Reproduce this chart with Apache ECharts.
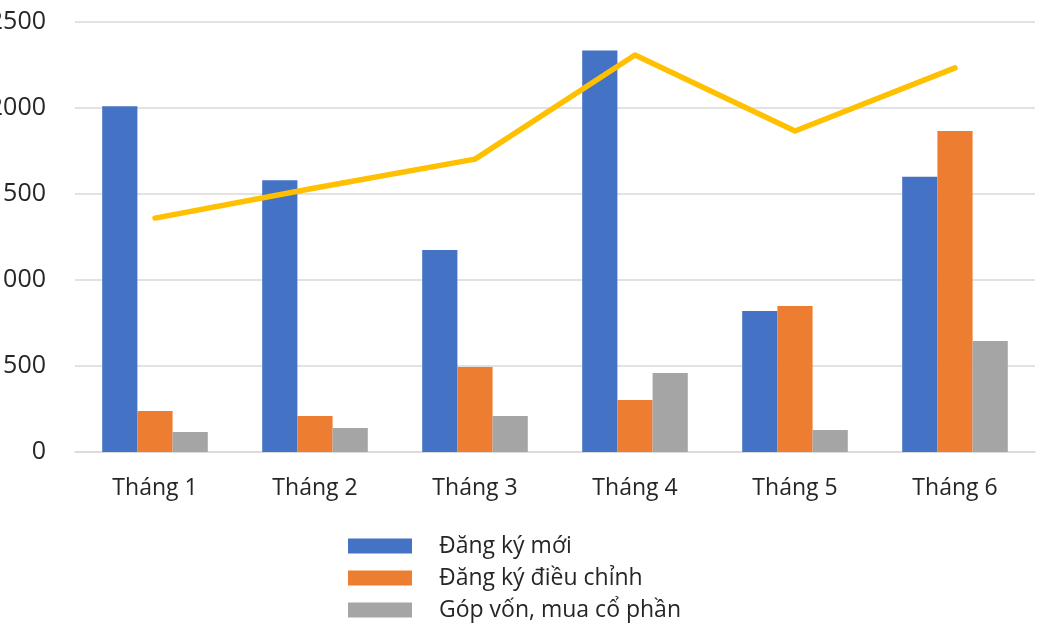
<!DOCTYPE html>
<html>
<head>
<meta charset="utf-8">
<script src="https://cdn.jsdelivr.net/npm/echarts@6/dist/echarts.min.js"></script>
<style>
  html, body { margin: 0; padding: 0; background: #fff; }
  #chart { width: 1050px; height: 630px; }
</style>
</head>
<body>
<div id="chart"></div>
<script>
// dữ liệu
const months = ['Tháng 1', 'Tháng 2', 'Tháng 3', 'Tháng 4', 'Tháng 5', 'Tháng 6'];
const dangKyMoi = [2010, 1580, 1175, 2335, 820, 1600];
const dangKyDieuChinh = [238, 209, 494, 302, 849, 1866];
const gopVon = [116, 140, 209, 459, 128, 645];
const tongCong = [1360, 1535, 1703, 2308, 1866, 2233];
const yTicks = [0, 500, 1000, 1500, 2000, 2500];

const myChart = echarts.init(document.getElementById('chart'));

const font = '"Open Sans", "Noto Sans", sans-serif';

const option = {
  animation: false,
  textStyle: { fontFamily: font },
  grid: { left: 75, right: 15, top: 22, bottom: 178, containLabel: false, outerBoundsMode: 'none' },
  legend: {
    data: ['Đăng ký mới', 'Đăng ký điều chỉnh', 'Góp vốn, mua cổ phần'],
    orient: 'vertical',
    left: 348,
    top: 531,
    height: 110,
    icon: 'rect',
    itemWidth: 64,
    itemHeight: 15,
    itemGap: 2,
    padding: 0,
    textStyle: { fontSize: 23, color: '#262626', fontFamily: font, lineHeight: 30, padding: [0, 0, 0, 22] }
  },
  xAxis: {
    type: 'category',
    data: months,
    axisLine: { lineStyle: { color: '#d9d9d9', width: 1.5 } },
    axisTick: { show: false },
    axisLabel: { fontSize: 23, color: '#262626', margin: 25, fontFamily: font }
  },
  yAxis: {
    type: 'value',
    min: yTicks[0],
    max: yTicks[yTicks.length - 1],
    interval: 500,
    axisLine: { show: false },
    axisTick: { show: false },
    splitLine: { lineStyle: { color: '#d9d9d9', width: 1.5 } },
    axisLabel: { fontSize: 25, color: '#262626', margin: 29, fontFamily: font, formatter: v => String(v) }
  },
  series: [
    {
      name: 'Đăng ký mới', type: 'bar', data: dangKyMoi,
      itemStyle: { color: '#4472C4' }, barGap: '0%', barCategoryGap: '34%'
    },
    {
      name: 'Đăng ký điều chỉnh', type: 'bar', data: dangKyDieuChinh,
      itemStyle: { color: '#ED7D31' }
    },
    {
      name: 'Góp vốn, mua cổ phần', type: 'bar', data: gopVon,
      itemStyle: { color: '#A5A5A5' }
    },
    {
      name: 'Tổng', type: 'line', data: tongCong,
      symbol: 'none',
      lineStyle: { color: '#FFC000', width: 5.5, cap: 'round', join: 'round' },
      itemStyle: { color: '#FFC000' }
    }
  ]
};

myChart.setOption(option);
</script>
</body>
</html>
